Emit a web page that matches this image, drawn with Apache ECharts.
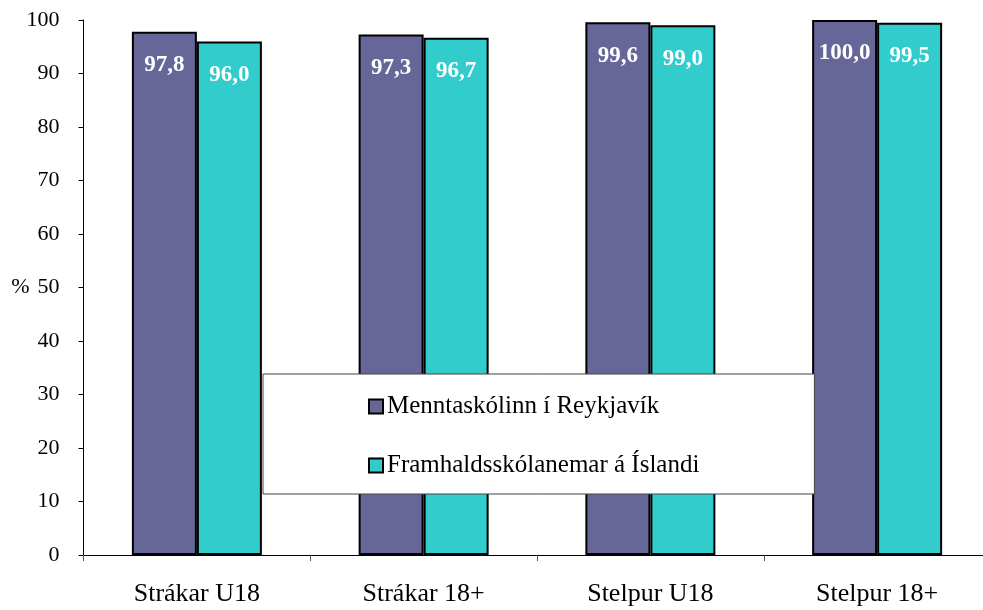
<!DOCTYPE html>
<html>
<head>
<meta charset="utf-8">
<script src="https://cdn.jsdelivr.net/npm/echarts@6/dist/echarts.min.js"></script>
<style>html,body{margin:0;padding:0;background:#fff;overflow:hidden}#c{width:1000px;height:610px}</style>
</head>
<body>
<div id="c"></div>
<script>
var categories = ['Strákar U18', 'Strákar 18+', 'Stelpur U18', 'Stelpur 18+'];
var seriesNames = ['Menntaskólinn í Reykjavík', 'Framhaldsskólanemar á Íslandi'];
var mrValues = [97.8, 97.3, 99.6, 100.0];
var islValues = [96.0, 96.7, 99.0, 99.5];
var yTicks = {min: 0, max: 100, interval: 10};

var FONT = "'Liberation Serif', 'Times New Roman', serif";
var chart = echarts.init(document.getElementById('c'), null, {renderer: 'canvas'});
function fmt(p){ return p.value.toFixed(1).replace('.', ','); }
function mkSeries(name, data, color){
  return {
    name: name, type: 'bar', data: data, barWidth: 65, barGap: '0%',
    itemStyle: {color: color, borderColor: '#000', borderWidth: 2},
    label: {show: true, position: 'insideTop', distance: 22, formatter: fmt,
      color: '#fff', fontWeight: 'bold', fontSize: 23, fontFamily: FONT}
  };
}
chart.setOption({
  animation: false,
  textStyle: {fontFamily: FONT},
  grid: {left: 83.5, top: 20, width: 907, height: 535, containLabel: false},
  legend: {
    orient: 'vertical', left: 263, top: 374,
    padding: [20, 115, 16, 105], itemGap: 34,
    itemWidth: 14, itemHeight: 14, icon: 'rect',
    backgroundColor: '#fff', borderColor: '#444', borderWidth: 1,
    textStyle: {fontSize: 25, fontFamily: FONT, color: '#000', padding: [0, 0, 0, -1]},
    z: 10
  },
  xAxis: {
    type: 'category', data: categories,
    axisLine: {lineStyle: {color: '#000', width: 1}},
    axisTick: {show: true, length: 6, lineStyle: {color: '#555'}},
    axisLabel: {fontSize: 26, color: '#000', fontFamily: FONT, margin: 26}
  },
  yAxis: {
    type: 'value', min: yTicks.min, max: yTicks.max, interval: yTicks.interval,
    name: '%', nameLocation: 'middle', nameRotate: 0, nameGap: 54,
    nameMoveOverlap: false,
    nameTextStyle: {fontSize: 22, color: '#000', fontFamily: FONT},
    axisLine: {show: true, lineStyle: {color: '#000', width: 1}},
    axisTick: {show: true, length: 5, lineStyle: {color: '#000'}},
    axisLabel: {fontSize: 22, color: '#000', fontFamily: FONT, margin: 24},
    splitLine: {show: false}
  },
  series: [
    mkSeries(seriesNames[0], mrValues, '#666699'),
    mkSeries(seriesNames[1], islValues, '#33CCCC')
  ]
});
</script>
</body>
</html>
